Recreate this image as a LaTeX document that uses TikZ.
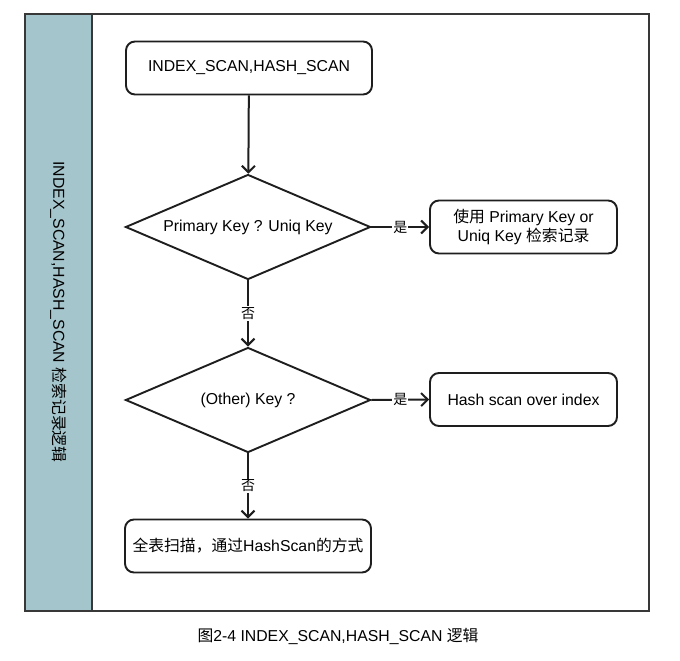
\documentclass[tikz,border=0pt]{standalone}
\usepackage{fontspec}
\setmainfont{Liberation Sans}
\newfontfamily\cjk{Noto Sans CJK SC}
\usetikzlibrary{shapes.geometric,arrows.meta}
\definecolor{lanefill}{HTML}{A5C5CC}
\definecolor{framecol}{HTML}{383838}
\definecolor{shapecol}{HTML}{1E1E1E}
\begin{document}
\begin{tikzpicture}[x=1pt,y=-1pt,
  txt/.style={font=\fontsize{15.8}{19}\selectfont},
  box/.style={txt, draw=shapecol, line width=1.9pt, rounded corners=9pt, minimum width=246pt, minimum height=53pt, align=center, inner sep=0pt, fill=white},
  smallbox/.style={box, minimum width=187pt},
  dec/.style={txt, draw=shapecol, line width=1.9pt, diamond, aspect=2.33, minimum width=245pt, minimum height=105pt, inner sep=0pt, fill=white},
  conn/.style={draw=shapecol, line width=2pt, -{Straight Barb[length=6.5pt,width=13pt]}},
  lbl/.style={fill=white, inner sep=1pt, font=\cjk\fontsize{14}{16}\selectfont}
]
\useasboundingbox (0,0) rectangle (680,661);
% frame and lane
\path[fill=white] (25,14) rectangle (649,611);
\path[fill=lanefill] (25,14) rectangle (92,611);
\draw[framecol, line width=2.2pt] (92,14) -- (92,611);
\draw[framecol, line width=2.5pt] (25,14) rectangle (649,611);
\node[txt, rotate=-90] (lane) at (58.5,312) {INDEX\_SCAN,HASH\_SCAN {\cjk 检索记录逻辑}};
% nodes
\node[box] (start) at (249,68) {INDEX\_SCAN,HASH\_SCAN};
\node[dec] (d1) at (248,227) {Primary Key ? Uniq Key};
\node[smallbox] (r1) at (523.5,227) {{\cjk 使用} Primary Key or\\Uniq Key {\cjk 检索记录}};
\node[dec] (d2) at (248,400) {(Other) Key ?};
\node[smallbox] (r2) at (523.5,399.5) {Hash scan over index};
\node[box] (end) at (248,546) {{\cjk 全表扫描，通过}HashScan{\cjk 的方式}};
% connectors
\draw[conn] (start) -- (d1);
\draw[conn] (d1.east) -- node[lbl] {是} (r1.west);
\draw[conn] (d1.south) -- node[lbl] {否} (d2.north);
\draw[conn] (d2.east) -- node[lbl] {是} (r2.west);
\draw[conn] (d2.south) -- node[lbl] {否} (end.north);
% caption
\node[font=\fontsize{15.8}{18}\selectfont] (cap) at (338,636) {{\cjk 图}2-4 INDEX\_SCAN,HASH\_SCAN {\cjk 逻辑}};
\end{tikzpicture}
\end{document}
